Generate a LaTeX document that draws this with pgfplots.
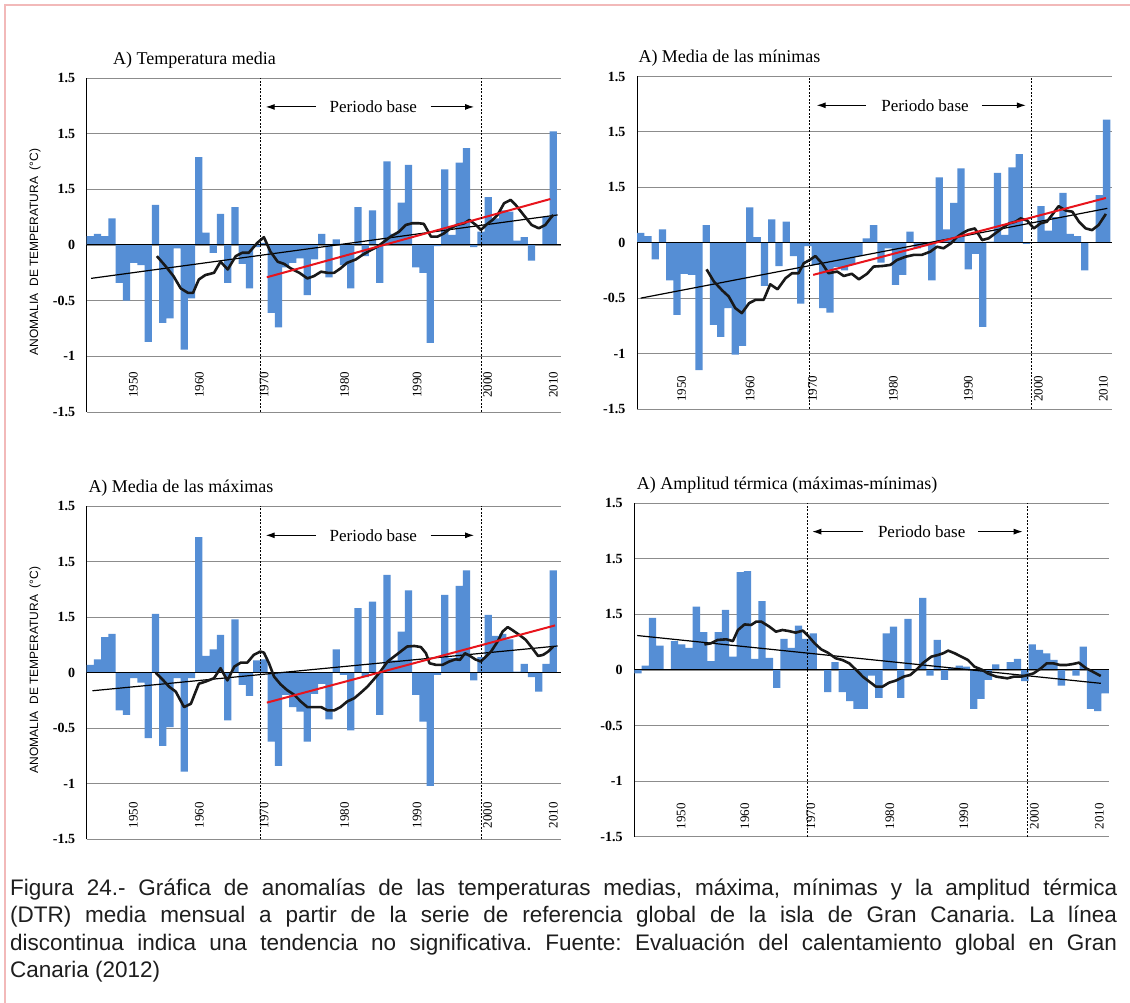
\documentclass[border=0pt]{standalone}
\usepackage{fontspec}
\setmainfont{Liberation Serif}
\newfontfamily\sansf{Liberation Sans}
\newfontfamily\capfont{Liberation Sans}
\usepackage{pgfplots}
\pgfplotsset{compat=1.18}
\usetikzlibrary{arrows.meta}

\definecolor{barblue}{RGB}{85,142,213}
\definecolor{gridgray}{RGB}{140,140,140}
\definecolor{trendred}{RGB}{232,20,28}
\definecolor{borderpink}{RGB}{242,185,185}
\definecolor{captext}{RGB}{30,30,30}

\newcommand\tickfont{\fontsize{13}{13}\selectfont}
\newcommand\titfont{\fontsize{18}{18}\selectfont}
\newcommand\perfont{\fontsize{17}{17}\selectfont}

\pgfplotsset{
  panel/.style={
    scale only axis,
    xmin=1945.5,
    ymin=-1.5, ymax=1.5,
    enlargelimits=false,
    axis x line*=bottom, axis y line*=left,
    x axis line style={draw=none},
    y axis line style={black, line width=0.9pt},
    ytick={-1.5,-1,-0.5,0,0.5,1,1.5},
    yticklabels={-1.5,-1,-0.5,0,1.5,1.5,1.5},
    ymajorgrids,
    major grid style={gridgray, line width=0.9pt},
    major tick length=0pt,
    yticklabel style={font=\fontsize{14}{14}\selectfont\bfseries, inner sep=0pt, anchor=east, xshift=-11.5pt},
    xticklabels={1950,1960,1970,1980,1990,2000,2010},
    clip=false,
  },
  bars/.style={ybar, bar width=1, fill=barblue, draw=none},
  ma/.style={black!90, line width=2.6pt, line join=round},
  trend/.style={black, line width=1.2pt},
  redtrend/.style={trendred, line width=2pt},
  zeroline/.style={black, line width=1pt},
}
\tikzset{
  vdash/.style={black, line width=0.7pt, dash pattern=on 2pt off 1.5pt},
  parrow/.style={-{Latex[length=9pt,width=6pt]}, line width=1pt, black},
}

\begin{document}
\begin{tikzpicture}[x=1pt,y=1pt]
\useasboundingbox (0,0) rectangle (1130,1003);
\fill[white] (0,0) rectangle (1130,1003);
\draw[borderpink, line width=1.2pt] (5,0) -- (5,998) -- (1130,998);

% ---------------- Top-left: Temperatura media
\begin{axis}[panel, at={(86.7pt,591pt)}, anchor=south west, width=473.8pt, height=334pt, xmax=2011.0,
  xtick={1951.94,1961.07,1970.01,1981.17,1991.17,2000.94,2010.01},
  xticklabel style={font=\tickfont, inner sep=0pt, yshift=14pt, rotate=90, anchor=west}]
\addplot[bars] coordinates {(1946,0.08)(1947,0.10)(1948,0.08)(1949,0.24)(1950,-0.34)(1951,-0.50)(1952,-0.16)(1953,-0.18)(1954,-0.87)(1955,0.36)(1956,-0.70)(1957,-0.66)(1958,-0.03)(1959,-0.94)(1960,-0.48)(1961,0.79)(1962,0.11)(1963,-0.07)(1964,0.28)(1965,-0.34)(1966,0.34)(1967,-0.17)(1968,-0.39)(1969,-0.02)(1970,0.02)(1971,-0.61)(1972,-0.74)(1973,-0.20)(1974,-0.16)(1975,-0.12)(1976,-0.45)(1977,-0.13)(1978,0.10)(1979,-0.29)(1980,0.05)(1981,-0.18)(1982,-0.39)(1983,0.34)(1984,-0.10)(1985,0.31)(1986,-0.34)(1987,0.75)(1988,0.10)(1989,0.38)(1990,0.72)(1991,-0.20)(1992,-0.25)(1993,-0.88)(1994,-0.01)(1995,0.68)(1996,0.09)(1997,0.74)(1998,0.87)(1999,-0.02)(2000,0.12)(2001,0.43)(2002,0.24)(2003,0.31)(2004,0.30)(2005,0.04)(2006,0.07)(2007,-0.14)(2008,0.00)(2009,0.25)(2010,1.02)};
\addplot[zeroline] coordinates {(1945.5,0) (2011.0,0)};
\addplot[trend] coordinates {(1946.1,-0.30) (2010.6,0.27)};
\addplot[ma] coordinates {(1955.2,-0.10) (1956.4,-0.19) (1957.5,-0.28) (1958.5,-0.39) (1959.5,-0.43) (1960.2,-0.43) (1961.0,-0.31) (1961.9,-0.27) (1963.1,-0.25) (1964.0,-0.15) (1965.0,-0.22) (1966.1,-0.10) (1967.0,-0.07) (1967.9,-0.07) (1969.1,0.02) (1970.0,0.07) (1970.9,-0.06) (1971.9,-0.15) (1972.8,-0.17) (1973.7,-0.21) (1974.9,-0.25) (1976.0,-0.30) (1976.9,-0.28) (1977.9,-0.24) (1978.8,-0.25) (1979.7,-0.25) (1980.6,-0.21) (1981.5,-0.16) (1982.7,-0.13) (1983.6,-0.09) (1984.8,-0.045) (1985.7,-0.015) (1986.6,0.03) (1987.5,0.075) (1988.7,0.12) (1989.6,0.18) (1990.5,0.195) (1991.4,0.195) (1992.1,0.19) (1993.1,0.075) (1994.0,0.075) (1994.9,0.105) (1995.8,0.15) (1996.7,0.18) (1997.7,0.195) (1998.4,0.225) (1999.3,0.18) (2000.0,0.135) (2000.7,0.18) (2001.6,0.225) (2002.3,0.27) (2003.2,0.375) (2004.1,0.405) (2004.8,0.36) (2005.9,0.27) (2007.0,0.18) (2008.0,0.15) (2008.9,0.18) (2009.6,0.24) (2010.0,0.27)};
\addplot[redtrend] coordinates {(1970.4,-0.29) (2009.6,0.413)};
\draw[vdash] (axis cs:1969.5,-1.5) -- (axis cs:1969.5,1.5);
\draw[vdash] (axis cs:2000.0,-1.5) -- (axis cs:2000.0,1.5);
\draw[parrow] (axis cs:1977.16,1.24) -- (axis cs:1970.25,1.24);
\draw[parrow] (axis cs:1993.06,1.24) -- (axis cs:1999.05,1.24);
\node[font=\perfont] at (axis cs:1985.12,1.24) {Periodo base};
\end{axis}

% ---------------- Top-right: Media de las minimas
\begin{axis}[panel, at={(637pt,594pt)}, anchor=south west, width=474.7pt, height=332.5pt, xmax=2010.7,
  xtick={1951.64,1961.02,1969.63,1980.71,1991.01,2000.62,2009.55},
  xticklabel style={font=\tickfont, inner sep=0pt, yshift=7pt, rotate=90, anchor=west}]
\addplot[bars] coordinates {(1946,0.09)(1947,0.06)(1948,-0.15)(1949,0.12)(1950,-0.34)(1951,-0.65)(1952,-0.28)(1953,-0.29)(1954,-1.15)(1955,0.16)(1956,-0.74)(1957,-0.85)(1958,-0.59)(1959,-1.01)(1960,-0.93)(1961,0.32)(1962,0.05)(1963,-0.39)(1964,0.21)(1965,-0.21)(1966,0.19)(1967,-0.12)(1968,-0.55)(1969,-0.03)(1970,-0.20)(1971,-0.59)(1972,-0.63)(1973,-0.22)(1974,-0.25)(1975,-0.20)(1976,-0.12)(1977,0.04)(1978,0.16)(1979,-0.18)(1980,-0.05)(1981,-0.38)(1982,-0.29)(1983,0.10)(1984,-0.05)(1985,-0.03)(1986,-0.34)(1987,0.59)(1988,0.12)(1989,0.36)(1990,0.67)(1991,-0.24)(1992,-0.10)(1993,-0.76)(1994,0.01)(1995,0.63)(1996,0.07)(1997,0.68)(1998,0.80)(1999,-0.01)(2000,0.00)(2001,0.33)(2002,0.11)(2003,0.23)(2004,0.45)(2005,0.08)(2006,0.06)(2007,-0.25)(2008,0.00)(2009,0.43)(2010,1.11)};
\addplot[zeroline] coordinates {(1945.5,0) (2010.7,0)};
\addplot[trend] coordinates {(1946.0,-0.50) (2010.1,0.31)};
\addplot[ma] coordinates {(1955.05,-0.24) (1956.06,-0.35) (1957.2,-0.43) (1958.1,-0.485) (1959.0,-0.59) (1959.9,-0.635) (1960.9,-0.545) (1961.8,-0.515) (1962.9,-0.515) (1963.8,-0.375) (1964.8,-0.42) (1965.9,-0.32) (1966.8,-0.275) (1967.7,-0.275) (1968.4,-0.185) (1969.2,-0.156) (1970.0,-0.12) (1970.9,-0.185) (1971.8,-0.275) (1973.0,-0.26) (1973.9,-0.30) (1975.0,-0.28) (1975.97,-0.33) (1977.1,-0.28) (1978.0,-0.215) (1979.2,-0.21) (1980.3,-0.20) (1981.2,-0.156) (1982.4,-0.126) (1983.5,-0.11) (1984.6,-0.11) (1985.8,-0.08) (1986.7,-0.036) (1987.6,-0.05) (1988.6,-0.006) (1989.5,0.054) (1990.3,0.09) (1991.0,0.114) (1991.9,0.129) (1992.9,0.024) (1993.8,0.04) (1994.7,0.084) (1995.6,0.129) (1996.6,0.174) (1997.5,0.19) (1998.2,0.22) (1999.1,0.20) (2000.0,0.129) (2000.9,0.174) (2001.8,0.19) (2002.5,0.25) (2003.4,0.33) (2004.4,0.29) (2005.3,0.28) (2006.2,0.19) (2007.1,0.13) (2008.0,0.114) (2008.9,0.16) (2009.9,0.26)};
\addplot[redtrend] coordinates {(1969.7,-0.29) (2009.9,0.404)};
\draw[vdash] (axis cs:1969.17,-1.5) -- (axis cs:1969.17,1.5);
\draw[vdash] (axis cs:1999.72,-1.5) -- (axis cs:1999.72,1.5);
\draw[parrow] (axis cs:1976.9,1.24) -- (axis cs:1970.18,1.24);
\draw[parrow] (axis cs:1992.85,1.24) -- (axis cs:1998.9,1.24);
\node[font=\perfont] at (axis cs:1985.06,1.24) {Periodo base};
\end{axis}

% ---------------- Bottom-left: Media de las maximas
\begin{axis}[panel, at={(86.7pt,163.7pt)}, anchor=south west, width=473.8pt, height=333.3pt, xmax=2011.0,
  xtick={1951.94,1961.07,1970.01,1981.17,1991.17,2000.94,2010.01},
  xticklabel style={font=\tickfont, inner sep=0pt, yshift=11pt, rotate=90, anchor=west}]
\addplot[bars] coordinates {(1946,0.07)(1947,0.12)(1948,0.32)(1949,0.35)(1950,-0.34)(1951,-0.38)(1952,-0.05)(1953,-0.09)(1954,-0.59)(1955,0.53)(1956,-0.66)(1957,-0.49)(1958,-0.05)(1959,-0.89)(1960,-0.05)(1961,1.22)(1962,0.15)(1963,0.21)(1964,0.34)(1965,-0.43)(1966,0.48)(1967,-0.11)(1968,-0.21)(1969,0.11)(1970,0.12)(1971,-0.62)(1972,-0.84)(1973,-0.20)(1974,-0.31)(1975,-0.35)(1976,-0.62)(1977,-0.19)(1978,-0.10)(1979,-0.42)(1980,0.21)(1981,-0.02)(1982,-0.52)(1983,0.58)(1984,-0.04)(1985,0.64)(1986,-0.38)(1987,0.88)(1988,0.11)(1989,0.37)(1990,0.74)(1991,-0.20)(1992,-0.44)(1993,-1.02)(1994,-0.02)(1995,0.70)(1996,0.13)(1997,0.78)(1998,0.92)(1999,-0.07)(2000,0.14)(2001,0.52)(2002,0.33)(2003,0.35)(2004,0.30)(2005,0.01)(2006,0.08)(2007,-0.04)(2008,-0.17)(2009,0.08)(2010,0.92)};
\addplot[zeroline] coordinates {(1945.5,0) (2011.0,0)};
\addplot[trend] coordinates {(1946.3,-0.163) (2010.6,0.24)};
\addplot[ma] coordinates {(1955.04,0.0) (1955.96,-0.06) (1956.9,-0.127) (1957.8,-0.17) (1958.96,-0.31) (1959.9,-0.28) (1961.0,-0.10) (1961.95,-0.08) (1963.1,-0.05) (1964.0,0.04) (1964.95,-0.07) (1965.9,0.054) (1966.8,0.09) (1967.7,0.09) (1968.6,0.16) (1969.5,0.19) (1970.0,0.18) (1970.7,0.084) (1971.4,-0.036) (1972.3,-0.105) (1973.2,-0.157) (1974.2,-0.20) (1975.1,-0.26) (1976.0,-0.31) (1976.9,-0.31) (1977.9,-0.31) (1978.8,-0.34) (1979.7,-0.34) (1980.6,-0.31) (1981.5,-0.26) (1982.5,-0.23) (1983.4,-0.18) (1984.3,-0.127) (1985.2,-0.06) (1986.1,0.01) (1987.1,0.10) (1988.0,0.145) (1988.9,0.19) (1989.8,0.235) (1990.8,0.24) (1991.7,0.23) (1992.4,0.175) (1992.9,0.084) (1993.8,0.07) (1994.7,0.07) (1995.6,0.10) (1996.5,0.12) (1997.1,0.115) (1997.8,0.175) (1998.5,0.15) (1999.2,0.12) (1999.97,0.10) (2000.7,0.145) (2001.4,0.19) (2002.3,0.28) (2003.0,0.37) (2003.7,0.41) (2004.3,0.385) (2005.3,0.34) (2006.2,0.295) (2007.1,0.22) (2007.9,0.15) (2008.6,0.16) (2009.3,0.19) (2010.0,0.235)};
\addplot[redtrend] coordinates {(1970.4,-0.27) (2010.25,0.425)};
\draw[vdash] (axis cs:1969.5,-1.5) -- (axis cs:1969.5,1.5);
\draw[vdash] (axis cs:2000.0,-1.5) -- (axis cs:2000.0,1.5);
\draw[parrow] (axis cs:1977.16,1.236) -- (axis cs:1970.25,1.236);
\draw[parrow] (axis cs:1993.06,1.236) -- (axis cs:1999.05,1.236);
\node[font=\perfont] at (axis cs:1985.12,1.236) {Periodo base};
\end{axis}

% ---------------- Bottom-right: Amplitud termica
\begin{axis}[panel, at={(634.3pt,166.3pt)}, anchor=south west, width=475pt, height=333.4pt, xmax=2010.57,
  xtick={1951.9,1960.66,1969.7,1980.5,1990.64,2000.3,2009.2},
  xticklabel style={font=\tickfont, inner sep=0pt, yshift=7pt, rotate=90, anchor=west}]
\addplot[bars] coordinates {(1946,-0.03)(1947,0.04)(1948,0.47)(1949,0.22)(1950,0.00)(1951,0.26)(1952,0.23)(1953,0.20)(1954,0.57)(1955,0.34)(1956,0.08)(1957,0.34)(1958,0.54)(1959,0.12)(1960,0.88)(1961,0.89)(1962,0.10)(1963,0.62)(1964,0.11)(1965,-0.16)(1966,0.28)(1967,0.20)(1968,0.40)(1969,0.28)(1970,0.33)(1971,0.00)(1972,-0.20)(1973,0.07)(1974,-0.20)(1975,-0.28)(1976,-0.35)(1977,-0.35)(1978,-0.05)(1979,-0.25)(1980,0.33)(1981,0.39)(1982,-0.25)(1983,0.46)(1984,0.00)(1985,0.65)(1986,-0.05)(1987,0.27)(1988,-0.09)(1989,0.02)(1990,0.04)(1991,0.03)(1992,-0.35)(1993,-0.26)(1994,-0.09)(1995,0.05)(1996,0.00)(1997,0.07)(1998,0.10)(1999,-0.10)(2000,0.23)(2001,0.18)(2002,0.15)(2003,0.09)(2004,-0.14)(2005,0.00)(2006,-0.05)(2007,0.21)(2008,-0.35)(2009,-0.37)(2010,-0.21)};
\addplot[zeroline] coordinates {(1945.5,0) (2010.57,0)};
\addplot[trend] coordinates {(1945.9,0.31) (2009.4,-0.12)};
\addplot[ma] coordinates {(1955.1,0.23) (1956.0,0.24) (1956.9,0.27) (1958.1,0.276) (1959.0,0.26) (1959.7,0.36) (1960.6,0.41) (1961.5,0.405) (1962.2,0.435) (1962.9,0.435) (1964.0,0.39) (1964.9,0.345) (1965.8,0.36) (1966.7,0.35) (1967.6,0.336) (1968.6,0.354) (1969.2,0.315) (1970.2,0.24) (1971.1,0.186) (1972.0,0.156) (1973.1,0.105) (1974.0,0.09) (1974.95,0.06) (1975.9,0.0) (1976.8,-0.06) (1977.7,-0.105) (1978.6,-0.15) (1979.5,-0.15) (1980.4,-0.114) (1981.3,-0.096) (1982.4,-0.06) (1983.3,-0.045) (1984.2,0.006) (1985.1,0.066) (1986.2,0.12) (1987.1,0.135) (1987.8,0.15) (1988.5,0.174) (1989.4,0.15) (1990.3,0.12) (1991.2,0.09) (1992.1,0.03) (1993.2,0.0) (1993.9,-0.03) (1995.1,-0.06) (1995.7,-0.066) (1996.6,-0.075) (1997.5,-0.06) (1998.5,-0.06) (1999.4,-0.045) (2000.2,-0.03) (2001.2,0.015) (2002.0,0.06) (2002.9,0.06) (2003.8,0.045) (2004.7,0.045) (2005.6,0.054) (2006.4,0.066) (2007.4,0.015) (2008.3,-0.015) (2009.4,-0.054)};
\draw[vdash] (axis cs:1969.2,-1.5) -- (axis cs:1969.2,1.5);
\draw[vdash] (axis cs:1999.34,-1.5) -- (axis cs:1999.34,1.5);
\draw[parrow] (axis cs:1976.87,1.245) -- (axis cs:1969.88,1.245);
\draw[parrow] (axis cs:1992.6,1.245) -- (axis cs:1998.7,1.245);
\node[font=\perfont] at (axis cs:1984.87,1.245) {Periodo base};
\end{axis}

% ---------------- titles and axis labels
\node[anchor=base west, inner sep=0pt, font=\titfont] at (113,938) {A) Temperatura media};
\node[anchor=base west, inner sep=0pt, font=\titfont] at (638.3,940.3) {A) Media de las mínimas};
\node[anchor=base west, inner sep=0pt, font=\titfont] at (88.3,510.7) {A) Media de las máximas};
\node[anchor=base west, inner sep=0pt, font=\titfont] at (636.7,513) {A) Amplitud térmica (máximas-mínimas)};
\node[rotate=90, inner sep=0pt, font=\sansf\fontsize{12}{12}\selectfont] at (35,751) {ANOMALIA\ \ DE TEMPERATURA\ \ (°C)};
\node[rotate=90, inner sep=0pt, font=\sansf\fontsize{12}{12}\selectfont] at (35,333) {ANOMALIA\ \ DE TEMPERATURA\ \ (°C)};

% ---------------- caption
\begin{scope}[every node/.style={anchor=base west, inner sep=0pt, font=\capfont\fontsize{22.5}{22.5}\selectfont\frenchspacing, text=captext}]
\node at (10,107) {\makebox[1107pt][s]{Figura 24.- Gráfica de anomalías de las temperaturas medias, máxima, mínimas y la amplitud térmica}};
\node at (10,80) {\makebox[1107pt][s]{(DTR) media mensual a partir de la serie de referencia global de la isla de Gran Canaria. La línea}};
\node at (10,52) {\makebox[1107pt][s]{discontinua indica una tendencia no significativa. Fuente: Evaluación del calentamiento global en Gran}};
\node at (10,25) {Canaria (2012)};
\end{scope}
\end{tikzpicture}
\end{document}
